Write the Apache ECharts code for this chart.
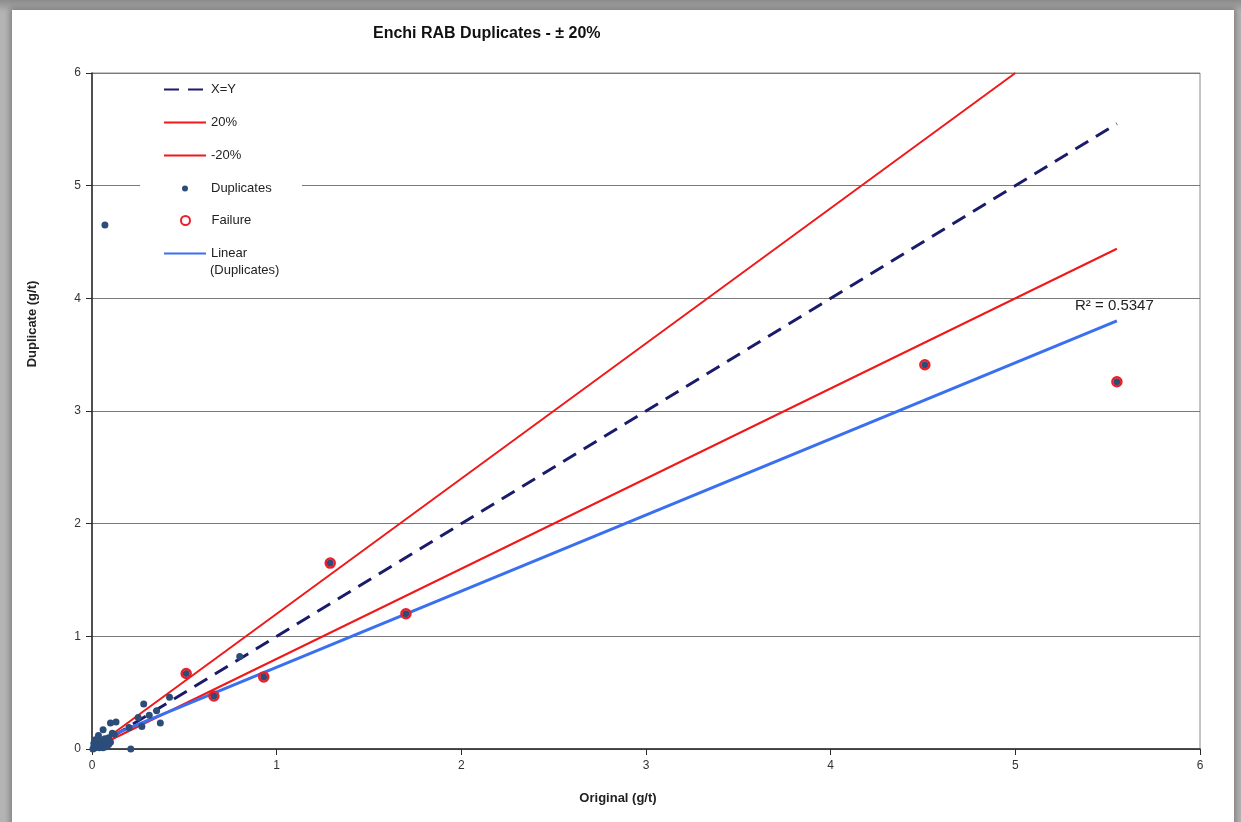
<!DOCTYPE html>
<html>
<head>
<meta charset="utf-8">
<script src="https://cdn.jsdelivr.net/npm/echarts@6/dist/echarts.min.js"></script>
<style>
  html, body { margin: 0; padding: 0; width: 1241px; height: 822px; overflow: hidden;
    background: linear-gradient(to bottom, #8c8c8c 0px, #b4b4b4 12px, #b4b4b4 100%); }
  #panel { position: absolute; left: 12px; top: 10px; width: 1222px; height: 830px; background: #ffffff;
    box-shadow: 0 0 6px 2px rgba(90,90,90,0.6); }
  #chart { position: absolute; left: 0; top: 0; width: 1241px; height: 822px; }
</style>
</head>
<body>
<div id="panel"></div>
<div id="chart"></div>
<script>
// ---- data ----
const titleText = 'Enchi RAB Duplicates - \u00B1 20%';
const xAxisTitle = 'Original (g/t)';
const yAxisTitle = 'Duplicate (g/t)';
const axisTicks = [0, 1, 2, 3, 4, 5, 6];

// Duplicate pairs (original, duplicate)
const dupOriginal  = [0.005,0.01,0.01,0.015,0.02,0.02,0.025,0.03,0.03,0.035,0.04,0.04,0.045,0.05,0.05,0.055,0.06,0.06,0.065,0.07,0.07,0.075,0.08,0.08,0.09,0.09,0.10,0.035,0.06,0.11,0.10,0.13,0.12,0.20,0.21,0.25,0.27,0.28,0.31,0.35,0.37,0.42,0.80,0.07,0.51,0.66,0.93,1.29,1.70,4.51,5.55];
const dupDuplicate = [0.00,0.02,0.05,0.08,0.03,0.01,0.06,0.02,0.09,0.04,0.01,0.07,0.03,0.05,0.02,0.08,0.04,0.01,0.06,0.03,0.09,0.05,0.02,0.07,0.04,0.10,0.06,0.12,0.17,0.14,0.23,0.24,0.13,0.19,0.00,0.28,0.20,0.40,0.30,0.34,0.23,0.46,0.82,4.65,0.67,0.47,0.64,1.65,1.20,3.41,3.26];

// Failures (outside ±20%)
const failOriginal  = [0.51,0.66,0.93,1.29,1.70,4.51,5.55];
const failDuplicate = [0.67,0.47,0.64,1.65,1.20,3.41,3.26];

// Reference lines
const xyX = [0, 5.55], xyY = [0, 5.55];
const plus20X = [0, 5.0], plus20Y = [0, 6.0];
const minus20X = [0, 5.55], minus20Y = [0, 4.44];
const linearX = [0, 5.55], linearY = [0.05, 3.80];
const rSquaredText = 'R\u00B2 = 0.5347';
const linearNameLines = ['Linear', '(Duplicates)'];

const zip = (a, b) => a.map((v, i) => [v, b[i]]);
const FONT = '"Liberation Sans", Arial, sans-serif';
const linearName = linearNameLines.join(' ');

const chart = echarts.init(document.getElementById('chart'), null, { renderer: 'canvas' });

const axisCommon = {
  type: 'value', min: axisTicks[0], max: axisTicks[axisTicks.length - 1], interval: 1,
  axisLine: { show: true, lineStyle: { color: '#2a2a2a', width: 1.5 } },
  axisTick: { show: true, length: 6, lineStyle: { color: '#2a2a2a' } },
  axisLabel: { color: '#333', fontSize: 12, fontFamily: FONT, margin: 11 }
};

const legendText = { color: '#222', fontSize: 13, fontFamily: FONT };

chart.setOption({
  animation: false,
  backgroundColor: 'transparent',
  title: {
    text: titleText, left: 368, top: 21,
    textStyle: { fontSize: 16, fontWeight: 'bold', color: '#111', fontFamily: FONT }
  },
  grid: { left: 92, right: 41, top: 73, bottom: 73, show: true, borderColor: '#8a8a8a', borderWidth: 1, backgroundColor: 'transparent' },
  xAxis: Object.assign({}, axisCommon, { splitLine: { show: false } }),
  yAxis: Object.assign({}, axisCommon, { splitLine: { show: true, lineStyle: { color: '#7a7a7a', width: 1 } } }),
  legend: [
    { orient: 'vertical', left: 163, top: 83, padding: 0, itemWidth: 42, itemHeight: 14, itemGap: 20,
      data: ['X=Y', '20%', '-20%'], textStyle: legendText, selectedMode: false, itemStyle: { opacity: 0 } },
    { orient: 'vertical', left: 182, top: 182, padding: 0, itemWidth: 42, itemHeight: 6,
      data: ['Duplicates'], textStyle: legendText, selectedMode: false },
    { orient: 'vertical', left: 180, top: 214, padding: 0, itemWidth: 42, itemHeight: 9,
      data: ['Failure'], textStyle: legendText, selectedMode: false, itemStyle: { color: '#ffffff' } },
    { orient: 'vertical', left: 163, top: 247, padding: 0, itemWidth: 42, itemHeight: 14,
      data: [linearName], textStyle: legendText, selectedMode: false, itemStyle: { opacity: 0 },
      formatter: () => linearNameLines[0] }
  ],
  graphic: [
    { type: 'rect', left: 140, top: 74, z: 3, silent: true, shape: { width: 162, height: 212 }, style: { fill: '#ffffff' } },
    { type: 'text', x: 210, y: 270, z: 10,
      style: { text: linearNameLines[1], align: 'left', verticalAlign: 'middle', font: '13px ' + FONT, fill: '#222' } },
    { type: 'text', x: 32, y: 324, rotation: Math.PI / 2, z: 10,
      style: { text: yAxisTitle, align: 'center', verticalAlign: 'middle', font: 'bold 13px ' + FONT, fill: '#222' } },
    { type: 'text', x: 618, y: 798, z: 10,
      style: { text: xAxisTitle, align: 'center', verticalAlign: 'middle', font: 'bold 13px ' + FONT, fill: '#222' } },
    { type: 'text', x: 1075, y: 306, z: 10,
      style: { text: rSquaredText, align: 'left', verticalAlign: 'middle', font: '15px ' + FONT, fill: '#222' } }
  ],
  series: [
    { name: 'X=Y', type: 'line', data: zip(xyX, xyY), symbol: 'none', z: 2,
      lineStyle: { color: '#1b1b6b', width: 3, type: [15, 9] }, itemStyle: { color: '#1b1b6b' } },
    { name: '20%', type: 'line', data: zip(plus20X, plus20Y), symbol: 'none', z: 2,
      lineStyle: { color: '#f01818', width: 2 }, itemStyle: { color: '#f01818' } },
    { name: '-20%', type: 'line', data: zip(minus20X, minus20Y), symbol: 'none', z: 2,
      lineStyle: { color: '#f01818', width: 2 }, itemStyle: { color: '#f01818' } },
    { name: linearName, type: 'line', data: zip(linearX, linearY), symbol: 'none', z: 2,
      lineStyle: { color: '#3a6ff0', width: 3 }, itemStyle: { color: '#3a6ff0' } },
    { name: 'Duplicates', type: 'scatter', data: zip(dupOriginal, dupDuplicate), symbol: 'circle', symbolSize: 7, z: 5,
      itemStyle: { color: '#2c4d7a', opacity: 1 } },
    { name: 'Failure', type: 'scatter', data: zip(failOriginal, failDuplicate), symbol: 'circle', symbolSize: 9, z: 6,
      itemStyle: { color: 'rgba(0,0,0,0)', borderColor: '#e8202a', borderWidth: 2.5, opacity: 1 } }
  ]
});
</script>
</body>
</html>
